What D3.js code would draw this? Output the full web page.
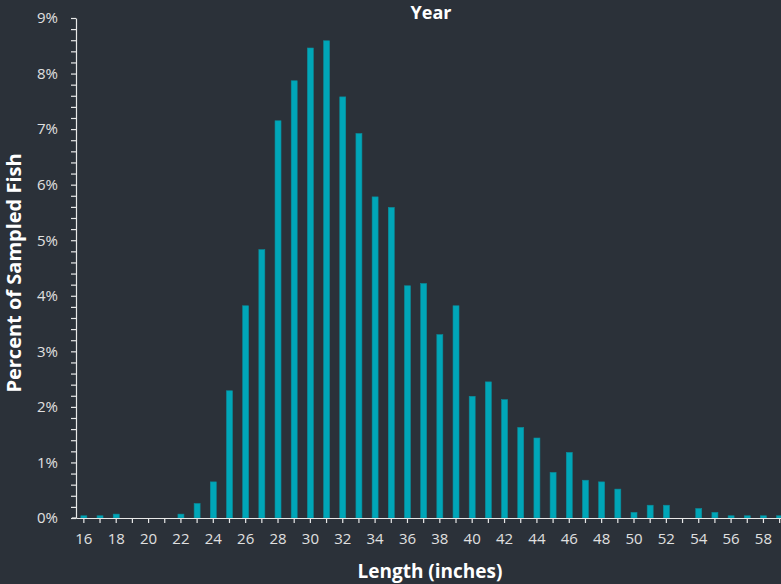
<!DOCTYPE html>
<html>
<head>
<meta charset="utf-8">
<script src="https://cdn.jsdelivr.net/npm/d3@7"></script>
<style>
  html, body { margin: 0; padding: 0; background: #2b3139; overflow: hidden; }
  svg { display: block; }
</style>
</head>
<body>
<svg id="chart"></svg>
<script>
// fish length distribution
var lengths = d3.range(16, 60);
var percents = [
  0.04, 0.04, 0.07, 0, 0, 0, 0.07, 0.26, 0.65, 2.29,
  3.82, 4.83, 7.15, 7.87, 8.46, 8.59, 7.58, 6.92, 5.78, 5.59,
  4.18, 4.22, 3.30, 3.82, 2.19, 2.45, 2.13, 1.63, 1.44, 0.82,
  1.18, 0.68, 0.65, 0.52, 0.10, 0.23, 0.23, 0, 0.17, 0.10,
  0.04, 0.04, 0.04, 0.04
];
var yTicks = d3.range(0, 9.01, 0.2);
var yLabels = [0, 1, 2, 3, 4, 5, 6, 7, 8, 9];

var width = 781, height = 584;
var plot_left = 76, plot_top = 18, plot_bottom = 518;
var step = 16.17;

var svg = d3.select('#chart')
  .attr('width', width)
  .attr('height', height);

var x = d3.scaleBand()
  .domain(lengths)
  .range([plot_left, plot_left + step * lengths.length])
  .paddingInner(0.63)
  .paddingOuter(0.3);

var y = d3.scaleLinear()
  .domain([0, 9])
  .range([plot_bottom, plot_top]);

// bars
svg.append('g')
  .selectAll('rect')
  .data(lengths)
  .enter()
  .append('rect')
  .attr('x', function(d){ return x(d); })
  .attr('y', function(d, i){ return y(percents[i]); })
  .attr('width', x.bandwidth())
  .attr('height', function(d, i){ return plot_bottom - y(percents[i]); })
  .style('fill', '#00a6b8')
  .style('stroke', '#0a8d9c')
  .style('stroke-width', 0.6);

// x axis
svg.append('g')
  .attr('transform', 'translate(0,' + plot_bottom + ')')
  .call(d3.axisBottom(x)
    .tickSize(5)
    .tickSizeOuter(0)
    .tickPadding(10)
    .tickFormat(function(d){ return d % 2 === 0 ? d : ''; }));

// y axis
svg.append('g')
  .attr('transform', 'translate(' + plot_left + ',0)')
  .call(d3.axisLeft(y)
    .tickValues(yTicks)
    .tickSize(5)
    .tickSizeOuter(0)
    .tickPadding(13)
    .tickFormat(function(d){
      var r = Math.round(d * 10) / 10;
      return yLabels.indexOf(r) >= 0 ? r + '%' : '';
    }));

svg.selectAll('.domain, .tick line')
  .style('stroke', '#e8e8e8')
  .style('stroke-width', 1.2);

svg.selectAll('.tick text')
  .style('fill', '#e0e0e0')
  .style('font-family', 'Open Sans, sans-serif')
  .style('font-size', '15px');

// extend baseline a little to the left of the y axis
svg.append('line')
  .attr('x1', plot_left - 4)
  .attr('x2', plot_left)
  .attr('y1', plot_bottom)
  .attr('y2', plot_bottom)
  .style('stroke', '#e8e8e8')
  .style('stroke-width', 1.2);

// titles
svg.append('text')
  .attr('x', 431)
  .attr('y', 19)
  .attr('text-anchor', 'middle')
  .style('fill', '#ffffff')
  .style('font-family', 'Open Sans, sans-serif')
  .style('font-weight', 'bold')
  .style('font-size', '18px')
  .text('Year');

svg.append('text')
  .attr('x', 430)
  .attr('y', 578)
  .attr('text-anchor', 'middle')
  .style('fill', '#ffffff')
  .style('font-family', 'Open Sans, sans-serif')
  .style('font-weight', 'bold')
  .style('font-size', '19px')
  .text('Length (inches)');

svg.append('text')
  .attr('transform', 'translate(21,273) rotate(-90)')
  .attr('text-anchor', 'middle')
  .style('fill', '#ffffff')
  .style('font-family', 'Open Sans, sans-serif')
  .style('font-weight', 'bold')
  .style('font-size', '20px')
  .text('Percent of Sampled Fish');
</script>
</body>
</html>
